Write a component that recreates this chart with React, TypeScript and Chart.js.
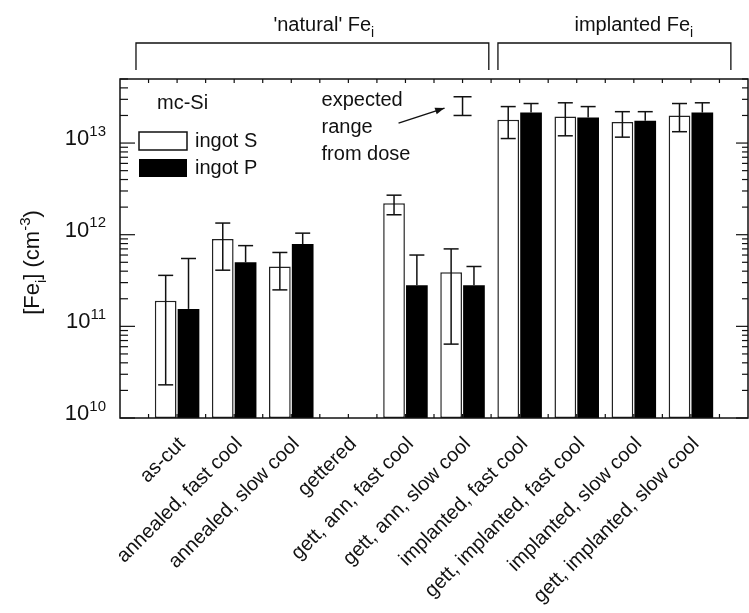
import React, { useEffect, useRef } from "react";
import { Chart, registerables } from "chart.js";

Chart.register(...registerables);

// ---------- data ----------
const categories = [
  "as-cut",
  "annealed, fast cool",
  "annealed, slow cool",
  "gettered",
  "gett, ann, fast cool",
  "gett, ann, slow cool",
  "implanted, fast cool",
  "gett, implanted, fast cool",
  "implanted, slow cool",
  "gett, implanted, slow cool",
];

const ingotS = [1.9e11, 9.0e11, 4.5e11, null, 2.2e12, 3.9e11, 1.8e13, 1.95e13, 1.7e13, 2.0e13];
const ingotSLow = [2.3e10, 4.1e11, 2.5e11, null, 1.65e12, 6.4e10, 1.12e13, 1.2e13, 1.16e13, 1.33e13];
const ingotSHigh = [3.6e11, 1.34e12, 6.4e11, null, 2.7e12, 7.0e11, 2.5e13, 2.75e13, 2.2e13, 2.7e13];

const ingotP = [1.55e11, 5.0e11, 7.9e11, null, 2.8e11, 2.8e11, 2.15e13, 1.9e13, 1.75e13, 2.15e13];
const ingotPHigh = [5.5e11, 7.6e11, 1.04e12, null, 6.0e11, 4.5e11, 2.7e13, 2.5e13, 2.2e13, 2.75e13];

const expectedRange = [2.0e13, 3.2e13];
const expectedIndex = 5;

const yDecades = [10, 11, 12, 13];
const yMin = 1e10;
const yMax = 5e13;

const seriesNames = ["ingot S", "ingot P"];
const groupNames = ["'natural' Fe", "implanted Fe"];

// ---------- drawing helpers ----------
const FONT = "'Liberation Sans', Arial, Helvetica, sans-serif";
const INK = "#111";

type Part = [string, number]; // 0 normal, 1 superscript, -1 subscript

function rich(
  ctx: CanvasRenderingContext2D,
  parts: Part[],
  x: number,
  y: number,
  align: string,
  size: number,
  smallSize?: number
) {
  const small = smallSize ?? Math.round(size * 0.68);
  const widths = parts.map(([t, m]) => {
    ctx.font = `${m ? small : size}px ${FONT}`;
    return ctx.measureText(t).width;
  });
  const total = widths.reduce((s, w) => s + w, 0);
  let cx = align === "center" ? x - total / 2 : align === "right" ? x - total : x;
  ctx.textAlign = "left";
  ctx.textBaseline = "alphabetic";
  parts.forEach(([t, m], i) => {
    ctx.font = `${m ? small : size}px ${FONT}`;
    const dy = m === 1 ? -size * 0.42 : m === -1 ? size * 0.3 : 0;
    ctx.fillText(t, cx, y + dy);
    cx += widths[i];
  });
}

function line(ctx: CanvasRenderingContext2D, x1: number, y1: number, x2: number, y2: number) {
  ctx.beginPath();
  ctx.moveTo(x1, y1);
  ctx.lineTo(x2, y2);
  ctx.stroke();
}

const decor = {
  id: "decor",
  afterDatasetsDraw(chart: any) {
    const { ctx, chartArea: a, scales } = chart;
    const xs = scales.x;
    const ys = scales.y;
    const px = (i: number) => xs.getPixelForValue(i + 1);
    ctx.save();
    ctx.strokeStyle = INK;
    ctx.fillStyle = INK;

    // error bars
    ctx.lineWidth = 1.5;
    const errs: [any[], any[]][] = [
      [ingotSLow, ingotSHigh],
      [ingotP, ingotPHigh], // lower half hidden inside the black bar
    ];
    errs.forEach(([lo, hi], d) => {
      const meta = chart.getDatasetMeta(d);
      meta.data.forEach((bar: any, j: number) => {
        const k = j - 1;
        if (k < 0 || k >= categories.length) return;
        if (lo[k] == null || hi[k] == null) return;
        const x = bar.x;
        const y1 = ys.getPixelForValue(lo[k]);
        const y2 = ys.getPixelForValue(hi[k]);
        line(ctx, x, y1, x, y2);
        if (d === 0) line(ctx, x - 7.5, y1, x + 7.5, y1);
        line(ctx, x - 7.5, y2, x + 7.5, y2);
      });
    });

    // expected range marker
    {
      const x = px(expectedIndex);
      const y1 = ys.getPixelForValue(expectedRange[0]);
      const y2 = ys.getPixelForValue(expectedRange[1]);
      line(ctx, x, y1, x, y2);
      line(ctx, x - 9, y1, x + 9, y1);
      line(ctx, x - 9, y2, x + 9, y2);
      // arrow
      const ex = x - 18;
      const ey = ys.getPixelForValue(Math.sqrt(expectedRange[0] * expectedRange[1])) + 2;
      const sx = ex - 46;
      const sy = ey + 15;
      ctx.lineWidth = 1.5;
      line(ctx, sx, sy, ex, ey);
      const ang = Math.atan2(ey - sy, ex - sx);
      ctx.beginPath();
      ctx.moveTo(ex, ey);
      ctx.lineTo(ex - 10 * Math.cos(ang - 0.35), ey - 10 * Math.sin(ang - 0.35));
      ctx.lineTo(ex - 10 * Math.cos(ang + 0.35), ey - 10 * Math.sin(ang + 0.35));
      ctx.closePath();
      ctx.fill();
    }

    // frame
    ctx.lineWidth = 1.5;
    ctx.strokeRect(a.left, a.top, a.right - a.left, a.bottom - a.top);

    // y ticks (inside, both sides)
    ctx.lineWidth = 1.2;
    yDecades.forEach((d) => {
      for (let m = 1; m <= 9; m++) {
        const v = m * Math.pow(10, d);
        if (v > yMax + 1 || v < yMin) continue;
        const y = ys.getPixelForValue(v);
        const major = m === 1;
        line(ctx, a.left, y, a.left + (major ? 15 : 8), y);
        line(ctx, a.right, y, a.right - (major ? 12 : 6), y);
      }
    });
    // x ticks (top and bottom)
    for (let t = 0.5; t <= categories.length + 0.51; t += 0.5) {
      const x = xs.getPixelForValue(t);
      line(ctx, x, a.top, x, a.top + 4);
      line(ctx, x, a.bottom, x, a.bottom - 4);
    }

    // y tick labels
    yDecades.forEach((d) => {
      const y = ys.getPixelForValue(Math.pow(10, d));
      rich(ctx, [["10", 0], [String(d), 1]], a.left - 14, y + 2, "right", 22, 15);
    });

    // y title
    ctx.save();
    ctx.translate(30, (a.top + a.bottom) / 2 + 14);
    ctx.rotate(-Math.PI / 2);
    rich(ctx, [["[Fe", 0], ["i", -1], ["] (cm", 0], ["-3", 1], [")", 0]], 0, 9, "center", 22);
    ctx.restore();

    // x labels
    ctx.font = `20px ${FONT}`;
    categories.forEach((c, i) => {
      ctx.save();
      ctx.translate(px(i) + 5, a.bottom + 23);
      ctx.rotate(-Math.PI / 4);
      ctx.textAlign = "right";
      ctx.textBaseline = "middle";
      ctx.fillText(c, 0, 0);
      ctx.restore();
    });

    // group brackets
    ctx.lineWidth = 1.3;
    const brackets = [
      [0.28, 6.46, 3.57],
      [6.62, 10.7, 9.0],
    ];
    brackets.forEach(([s, e, c], i) => {
      const x1 = xs.getPixelForValue(s);
      const x2 = xs.getPixelForValue(e);
      ctx.beginPath();
      ctx.moveTo(x1, a.top - 9);
      ctx.lineTo(x1, a.top - 36);
      ctx.lineTo(x2, a.top - 36);
      ctx.lineTo(x2, a.top - 9);
      ctx.stroke();
      rich(ctx, [[groupNames[i], 0], ["i", -1]], xs.getPixelForValue(c), a.top - 48, "center", 20);
    });

    // in-plot text: mc-Si and legend
    ctx.font = `20px ${FONT}`;
    ctx.textAlign = "left";
    ctx.textBaseline = "middle";
    ctx.fillText("mc-Si", a.left + 37, a.top + 24);
    ctx.lineWidth = 1.5;
    ctx.fillStyle = "#fff";
    ctx.fillRect(a.left + 19, a.top + 53, 48, 18);
    ctx.strokeRect(a.left + 19, a.top + 53, 48, 18);
    ctx.fillStyle = "#000";
    ctx.fillRect(a.left + 19, a.top + 80, 48, 18);
    ctx.fillStyle = INK;
    ctx.fillText(seriesNames[0], a.left + 75, a.top + 62);
    ctx.fillText(seriesNames[1], a.left + 75, a.top + 89);

    // expected range text
    const tx = px(expectedIndex) - 141;
    ctx.fillText("expected", tx, a.top + 21);
    ctx.fillText("range", tx, a.top + 48);
    ctx.fillText("from dose", tx, a.top + 75);

    ctx.restore();
  },
};

export default function App() {
  const ref = useRef<HTMLCanvasElement | null>(null);
  useEffect(() => {
    if (!ref.current) return;
    const labels = ["", ...categories, ""];
    const chart = new Chart(ref.current, {
      type: "bar",
      data: {
        labels,
        datasets: [
          {
            label: seriesNames[0],
            data: [null, ...ingotS, null],
            backgroundColor: "#ffffff",
            borderColor: "#222",
            borderWidth: 1.5,
            borderSkipped: false,
            categoryPercentage: 0.8,
            barPercentage: 0.95,
          },
          {
            label: seriesNames[1],
            data: [null, ...ingotP, null],
            backgroundColor: "#000000",
            borderColor: "#000000",
            borderWidth: 0,
            categoryPercentage: 0.8,
            barPercentage: 0.95,
          },
        ],
      },
      options: {
        animation: false,
        responsive: false,
        devicePixelRatio: 1,
        layout: { padding: { left: 120, top: 79, right: 1, bottom: 195 } },
        plugins: { legend: { display: false }, tooltip: { enabled: false } },
        scales: {
          x: { type: "category", offset: false, display: false },
          y: { type: "logarithmic", min: yMin, max: yMax, display: false },
        },
      },
      plugins: [decor],
    });
    return () => chart.destroy();
  }, []);
  return (
    <div style={{ position: "fixed", left: 0, top: 0, width: 749, height: 613, background: "#fff" }}>
      <canvas ref={ref} width={749} height={613} style={{ width: 749, height: 613, display: "block" }} />
    </div>
  );
}
